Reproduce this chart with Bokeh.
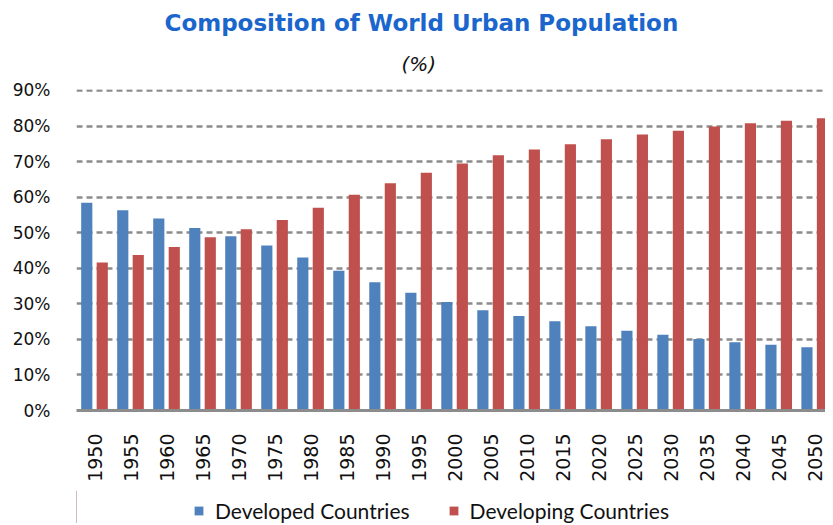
import math
from bokeh.plotting import figure
from bokeh.layouts import column
from bokeh.models import (Range1d, FixedTicker, Legend, LegendItem, Title,
                          ColumnDataSource)
from bokeh.transform import dodge
from bokeh.embed import file_html
from bokeh.resources import INLINE

years = [1950, 1955, 1960, 1965, 1970, 1975, 1980, 1985, 1990, 1995, 2000,
         2005, 2010, 2015, 2020, 2025, 2030, 2035, 2040, 2045, 2050]
developed = [58.4, 56.3, 54.0, 51.3, 49.0, 46.4, 43.0, 39.3, 36.1, 33.1, 30.5,
             28.2, 26.6, 25.1, 23.7, 22.4, 21.3, 20.1, 19.2, 18.5, 17.8]
developing = [41.6, 43.7, 46.0, 48.7, 51.0, 53.6, 57.0, 60.7, 63.9, 66.9, 69.5,
              71.8, 73.4, 74.9, 76.3, 77.6, 78.7, 79.9, 80.8, 81.5, 82.2]
y_ticks = [0, 10, 20, 30, 40, 50, 60, 70, 80, 90]
y_tick_labels = ["0%", "10%", "20%", "30%", "40%", "50%", "60%", "70%", "80%", "90%"]
series_names = ["Developed Countries", "Developing Countries"]
title_text = "Composition of World Urban Population"
subtitle_text = "(%)"

BLUE = "#4F81BD"
RED = "#C0504D"
GRID = "#8C8C8C"

src = ColumnDataSource(dict(year=years, developed=developed, developing=developing))

p = figure(width=825, height=490, output_backend="svg", toolbar_location=None,
           x_range=Range1d(1947.5, 2051.5), y_range=Range1d(0, 90.28),
           title=title_text, min_border_top=89, min_border_left=76,
           min_border_right=0, min_border_bottom=80)
p.outline_line_color = None
p.background_fill_color = "white"
p.border_fill_color = "white"

p.title.align = "left"
p.title.offset = 88
p.title.text_font = "DejaVu Sans"
p.title.text_font_style = "bold"
p.title.text_font_size = "23px"
p.title.text_color = "#1A66CC"
p.title.standoff = 0

sub_title = Title(text=subtitle_text, align="left", offset=325, text_font="DejaVu Sans",
                  text_font_style="italic", text_font_size="20px",
                  text_color="#111111", standoff=28)
p.add_layout(sub_title, "above")

r1 = p.vbar(x=dodge("year", -1.075, range=p.x_range), top="developed", width=1.55,
            bottom=0, source=src, fill_color=BLUE, line_color=None)
r2 = p.vbar(x=dodge("year", 1.075, range=p.x_range), top="developing", width=1.55,
            bottom=0, source=src, fill_color=RED, line_color=None)

# grid
p.xgrid.visible = False
p.ygrid.ticker = FixedTicker(ticks=y_ticks)
p.ygrid.grid_line_color = GRID
p.ygrid.grid_line_width = 2.5
p.ygrid.grid_line_dash = "6 4"

# y axis
p.yaxis.ticker = FixedTicker(ticks=y_ticks)
p.yaxis.major_label_overrides = {t: l for t, l in zip(y_ticks, y_tick_labels)}
p.yaxis.axis_line_color = None
p.yaxis.major_tick_line_color = None
p.yaxis.minor_tick_line_color = None
p.yaxis.major_label_standoff = 20
p.yaxis.major_label_text_font = "DejaVu Sans"
p.yaxis.major_label_text_font_size = "17px"
p.yaxis.major_label_text_color = "#111111"

# x axis
p.xaxis.ticker = FixedTicker(ticks=years)
p.xaxis.major_label_overrides = {y: str(y) for y in years}
p.xaxis.axis_line_color = GRID
p.xaxis.axis_line_width = 3
p.xaxis.major_tick_line_color = None
p.xaxis.minor_tick_line_color = None
p.xaxis.major_label_orientation = math.pi / 2
p.xaxis.major_label_standoff = 17
p.xaxis.major_label_text_font = "DejaVu Sans"
p.xaxis.major_label_text_font_size = "19px"
p.xaxis.major_label_text_color = "#111111"

# legend strip (separate figure below the chart so it is not clipped)
p2 = figure(width=825, height=33, output_backend="svg", toolbar_location=None,
            x_range=Range1d(0, 1), y_range=Range1d(0, 1),
            x_axis_location=None, y_axis_location=None,
            min_border_top=0, min_border_left=0, min_border_right=0, min_border_bottom=0)
p2.outline_line_color = None
p2.grid.visible = False
p2.border_fill_color = "white"
p2.background_fill_color = "white"
# legend-only proxies, kept outside the visible range of the strip
proxy = ColumnDataSource(dict(x=[-5.0], top=[1.0]))
l1 = p2.vbar(x="x", top="top", width=0.1, source=proxy, fill_color=BLUE, line_color=None)
l2 = p2.vbar(x="x", top="top", width=0.1, source=proxy, fill_color=RED, line_color=None)

legend = Legend(items=[LegendItem(label=series_names[0], renderers=[l1]),
                       LegendItem(label=series_names[1], renderers=[l2])],
                orientation="horizontal", location=(117, 0),
                glyph_width=11, glyph_height=11, label_standoff=11, spacing=38,
                label_text_font="Lato", label_text_font_size="21px",
                label_text_color="#111111", border_line_color=None,
                background_fill_alpha=0, padding=2, margin=0)
p2.add_layout(legend, "center")

layout = column(p, p2, spacing=0)
open("out.html", "w").write(file_html(layout, INLINE))
